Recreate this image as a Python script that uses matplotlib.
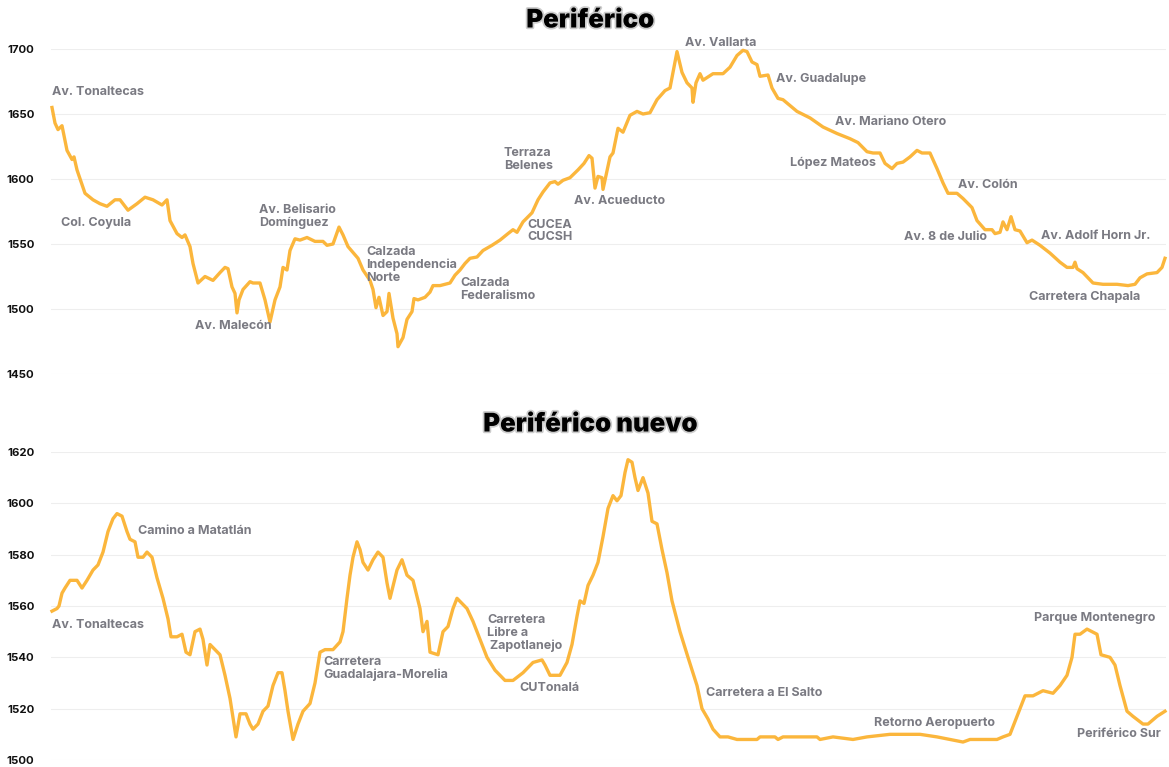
import matplotlib
matplotlib.use("Agg")
import matplotlib.pyplot as plt
import matplotlib.patheffects as pe

plt.rcParams['font.family'] = ['Inter', 'DejaVu Sans']

# distance along the route (arbitrary units) and elevation in m
dist_top = [52, 55, 58, 62, 67, 72, 74, 77, 85, 93, 100, 107, 115, 120, 128, 137, 145, 153, 162, 167,
            170, 177, 182, 185, 190, 193, 198, 205, 213, 220, 225, 228, 232, 235, 237, 239, 243, 250, 253, 260,
            265, 270, 275, 280, 283, 287, 290, 295, 300, 307, 315, 323, 327, 333, 339, 343, 348, 358, 363, 370,
            373, 376, 379, 383, 387, 389, 393, 397, 398, 403, 407, 412, 414, 418, 425, 430, 433, 440, 450, 455,
            460, 465, 470, 477, 483, 492, 500, 508, 513, 517, 523, 532, 538, 543, 550, 555, 558, 563, 570, 578,
            584, 589, 592, 595, 598, 602, 603, 610, 613, 618, 623, 630, 637, 643, 650, 657, 665, 670, 677, 682,
            687, 692, 693, 696, 700, 703, 713, 723, 730, 737, 743, 747, 752, 757, 760, 768, 772, 778, 783, 797,
            810, 823, 837, 850, 858, 867, 873, 880, 885, 892, 897, 903, 910, 917, 922, 930, 937, 943, 948, 957,
            963, 972, 977, 985, 992, 995, 1000, 1003, 1007, 1011, 1015, 1020, 1027, 1032, 1040, 1050, 1060, 1067, 1073, 1075,
            1077, 1083, 1093, 1103, 1117, 1128, 1135, 1140, 1147, 1157, 1162, 1165]
elev_top = [1655, 1643, 1638, 1641, 1622, 1615, 1617, 1607, 1589, 1584, 1581, 1579, 1584, 1584, 1576, 1581, 1586, 1584, 1580, 1584,
            1568, 1558, 1555, 1557, 1548, 1535, 1520, 1525, 1522, 1528, 1532, 1531, 1517, 1512, 1497, 1507, 1515, 1521, 1520, 1520,
            1507, 1490, 1507, 1517, 1532, 1530, 1545, 1554, 1553, 1555, 1552, 1552, 1549, 1550, 1563, 1557, 1548, 1539, 1530, 1522,
            1515, 1501, 1509, 1495, 1498, 1512, 1493, 1481, 1471, 1478, 1492, 1498, 1508, 1507, 1509, 1513, 1518, 1518, 1520, 1526,
            1530, 1535, 1539, 1540, 1545, 1549, 1553, 1558, 1561, 1559, 1567, 1574, 1584, 1590, 1597, 1598, 1596, 1599, 1601, 1607,
            1612, 1618, 1616, 1593, 1602, 1601, 1592, 1617, 1620, 1639, 1636, 1649, 1652, 1650, 1651, 1661, 1668, 1670, 1698, 1682,
            1674, 1670, 1659, 1674, 1681, 1676, 1681, 1681, 1686, 1695, 1699, 1698, 1690, 1688, 1679, 1680, 1670, 1662, 1661, 1652,
            1647, 1640, 1635, 1631, 1628, 1621, 1620, 1620, 1612, 1608, 1612, 1613, 1617, 1622, 1620, 1620, 1608, 1597, 1589, 1589,
            1585, 1578, 1568, 1561, 1561, 1558, 1559, 1567, 1561, 1571, 1561, 1560, 1551, 1553, 1549, 1543, 1536, 1532, 1532, 1536,
            1531, 1528, 1520, 1519, 1519, 1518, 1519, 1524, 1527, 1528, 1532, 1539]

dist_bot = [52, 57, 59, 62, 65, 70, 77, 82, 87, 93, 98, 103, 108, 113, 117, 122, 127, 130, 135, 138,
            143, 147, 152, 157, 163, 168, 171, 177, 182, 186, 190, 195, 200, 203, 207, 210, 215, 220, 225, 230,
            236, 240, 246, 250, 253, 258, 263, 268, 273, 278, 282, 285, 288, 293, 298, 303, 310, 315, 320, 325,
            333, 340, 343, 347, 350, 353, 357, 360, 363, 368, 373, 378, 383, 387, 390, 397, 402, 407, 413, 420,
            423, 427, 430, 438, 443, 448, 453, 457, 467, 473, 480, 487, 495, 505, 513, 523, 533, 542, 545, 550,
            560, 567, 572, 577, 580, 584, 588, 593, 598, 603, 608, 613, 617, 621, 625, 628, 632, 635, 638, 643,
            648, 652, 657, 662, 667, 672, 680, 688, 697, 702, 708, 713, 720, 728, 737, 757, 760, 775, 778, 783,
            817, 820, 833, 853, 867, 890, 920, 937, 950, 963, 970, 997, 1003, 1010, 1017, 1025, 1033, 1043, 1053, 1060,
            1067, 1072, 1075, 1080, 1087, 1092, 1097, 1101, 1110, 1115, 1120, 1127, 1133, 1143, 1148, 1157, 1165]
elev_bot = [1558, 1559, 1560, 1565, 1567, 1570, 1570, 1567, 1570, 1574, 1576, 1581, 1589, 1594, 1596, 1595, 1589, 1586, 1585, 1579,
            1579, 1581, 1579, 1571, 1563, 1555, 1548, 1548, 1549, 1542, 1541, 1550, 1551, 1547, 1537, 1545, 1543, 1541, 1533, 1524,
            1509, 1518, 1518, 1514, 1512, 1514, 1519, 1521, 1529, 1534, 1534, 1527, 1519, 1508, 1514, 1519, 1522, 1530, 1542, 1543,
            1543, 1546, 1550, 1563, 1572, 1579, 1585, 1582, 1577, 1574, 1578, 1581, 1579, 1569, 1563, 1574, 1578, 1572, 1570, 1559,
            1550, 1554, 1542, 1541, 1550, 1552, 1559, 1563, 1559, 1554, 1547, 1540, 1535, 1531, 1531, 1534, 1538, 1539, 1537, 1533,
            1533, 1538, 1545, 1556, 1562, 1561, 1568, 1572, 1577, 1587, 1598, 1603, 1601, 1603, 1612, 1617, 1616, 1610, 1605, 1610,
            1604, 1593, 1592, 1582, 1573, 1562, 1550, 1540, 1529, 1520, 1516, 1512, 1509, 1509, 1508, 1508, 1509, 1509, 1508, 1509,
            1509, 1508, 1509, 1508, 1509, 1510, 1510, 1509, 1508, 1507, 1508, 1508, 1509, 1510, 1517, 1525, 1525, 1527, 1526, 1529,
            1533, 1540, 1549, 1549, 1551, 1550, 1549, 1541, 1540, 1537, 1529, 1519, 1517, 1514, 1514, 1517, 1519]

labels_top = ["Av. Tonaltecas", "Col. Coyula", "Av. Malecón", "Av. Belisario\nDomínguez",
              "Calzada\nIndependencia\nNorte", "Calzada\nFederalismo", "CUCEA\nCUCSH", "Terraza\nBelenes",
              "Av. Acueducto", "Av. Vallarta", "Av. Guadalupe", "Av. Mariano Otero", "López Mateos",
              "Av. Colón", "Av. 8 de Julio", "Av. Adolf Horn Jr.", "Carretera Chapala"]
label_x_top = [52, 61, 195, 259, 366, 460, 527, 504, 574, 685, 776, 835, 790, 958, 904, 1041, 1029]
label_y_top = [1667, 1566, 1487, 1571, 1534, 1515, 1560, 1615, 1583, 1705, 1677, 1644, 1612, 1595, 1555, 1556, 1509]

labels_bot = ["Av. Tonaltecas", "Camino a Matatlán", "Carretera\nGuadalajara-Morelia",
              "Carretera\nLibre a\n Zapotlanejo", "CUTonalá", "Carretera a El Salto",
              "Retorno Aeropuerto", "Parque Montenegro", "Periférico Sur"]
label_x_bot = [52, 138, 323, 487, 519, 706, 874, 1034, 1077]
label_y_bot = [1552.6, 1589.4, 1535.6, 1549.5, 1528.2, 1526, 1514.3, 1555.4, 1510]

ticks_top = [1450, 1500, 1550, 1600, 1650, 1700]
ticks_bot = [1500, 1520, 1540, 1560, 1580, 1600, 1620]

LINE = "#FBB63C"
LABEL = "#7a7a82"

fig = plt.figure(figsize=(11.69, 7.67), dpi=100)
ax1 = fig.add_axes([51 / 1169, 1 - 374 / 767, 1115 / 1169, 325 / 767])
ax2 = fig.add_axes([51 / 1169, 1 - 760 / 767, 1115 / 1169, 308 / 767])

panels = [
    (ax1, dist_top, elev_top, labels_top, label_x_top, label_y_top, ticks_top, "Periférico", 21),
    (ax2, dist_bot, elev_bot, labels_bot, label_x_bot, label_y_bot, ticks_bot, "Periférico nuevo", 425),
]

for ax, d, e, labs, lx, ly, ticks, title, ty in panels:
    ax.plot(d, e, color=LINE, lw=2.4, solid_joinstyle="round", clip_on=False, zorder=3)
    ax.set_xlim(51, 1166)
    ax.set_ylim(ticks[0], ticks[-1])
    ax.set_yticks(ticks)
    ax.set_xticks([])
    ax.grid(axis="y", color="#eeeeee", lw=0.8)
    ax.set_axisbelow(True)
    for s in ax.spines.values():
        s.set_visible(False)
    ax.tick_params(axis="y", length=0, pad=12, labelsize=8.2, labelcolor="#111111")
    for t in ax.get_yticklabels():
        t.set_fontweight("bold")
    for txt, x, y in zip(labs, lx, ly):
        ax.text(x, y, txt, ha="left", va="center", fontsize=9, fontweight="bold",
                color=LABEL, linespacing=1.1, clip_on=False, zorder=4)
    fig.text(590 / 1169, 1 - ty / 767, title, ha="center", va="center", fontsize=18.5,
             fontweight="black", color="black",
             path_effects=[pe.withStroke(linewidth=2.5, foreground="#cccccc")])

fig.savefig("out.png", dpi=100, facecolor="white")
